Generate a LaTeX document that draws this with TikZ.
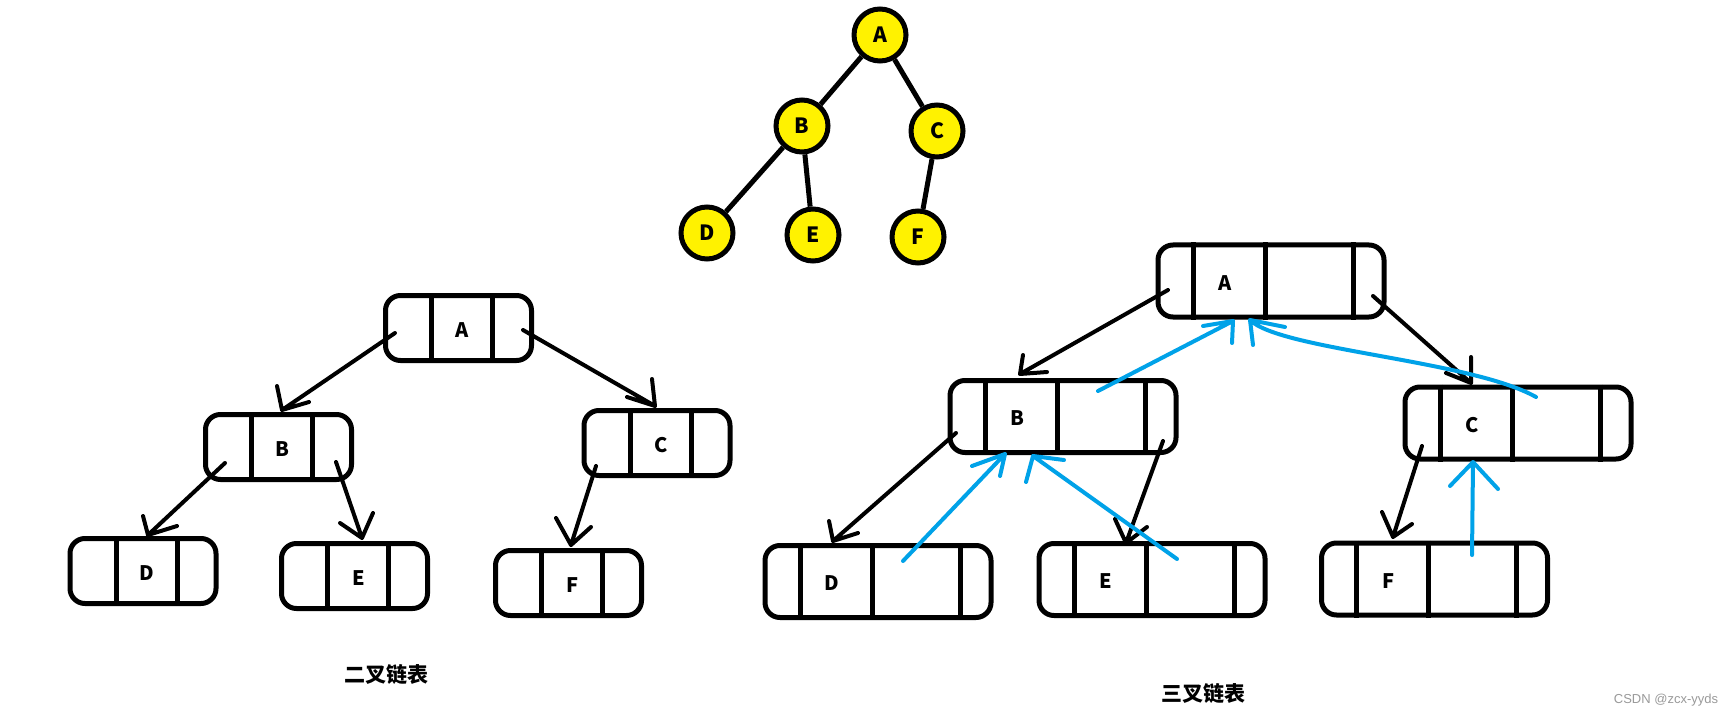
\documentclass[tikz,border=0pt]{standalone}
\usepackage{fontspec}
\setmainfont{Noto Sans CJK SC}
\newfontfamily\wmfont{Liberation Sans}
\definecolor{pyellow}{HTML}{FFF200}
\definecolor{pblue}{HTML}{00A2E8}
\definecolor{wmgray}{HTML}{9A9A9A}
\tikzset{
  circ/.style={circle, draw=black, line width=5pt, fill=pyellow, minimum size=52pt, inner sep=0pt, font=\fontsize{21}{24}\selectfont\bfseries},
  edge/.style={line width=5pt, draw=black},
  bin/.style={draw=black, line width=5pt, rounded corners=15pt, minimum width=146pt, minimum height=65pt, inner sep=0pt},
  tri/.style={draw=black, line width=5pt, rounded corners=15pt, minimum width=226pt, minimum height=72pt, inner sep=0pt},
  div/.style={line width=5pt, draw=black},
  lbl/.style={inner sep=0pt, font=\fontsize{20}{24}\selectfont\bfseries},
  blk/.style={line width=4pt, draw=black, line cap=round},
  blu/.style={line width=4pt, draw=pblue, line cap=round},
  captxt/.style={inner sep=0pt, font=\fontsize{21}{24}\selectfont\bfseries},
  wm/.style={inner sep=0pt, text=wmgray, font=\wmfont\fontsize{13}{15}\selectfont},
}
\newcommand\binbox[4]{%
  \node[bin] (#1) at (#2,#3) {};
  \draw[div] ([xshift=-27pt]#1.north) -- ([xshift=-27pt]#1.south);
  \draw[div] ([xshift=34pt]#1.north) -- ([xshift=34pt]#1.south);
  \node[lbl] (#1-t) at ([xshift=4pt,yshift=-2pt]#1.center) {#4};
}
\newcommand\tribox[4]{%
  \node[tri] (#1) at (#2,#3) {};
  \draw[div] ([xshift=-78pt]#1.north) -- ([xshift=-78pt]#1.south);
  \draw[div] ([xshift=-6pt]#1.north) -- ([xshift=-6pt]#1.south);
  \draw[div] ([xshift=82pt]#1.north) -- ([xshift=82pt]#1.south);
  \node[lbl] (#1-t) at ([xshift=-46pt,yshift=-2pt]#1.center) {#4};
}
\begin{document}
\begin{tikzpicture}[x=1pt,y=-1pt]
\useasboundingbox (0,0) rectangle (1728,719);
\fill[white] (0,0) rectangle (1728,719);

% ---------- tree ----------
\node[circ] (cA) at (880,35) {A};
\node[circ] (cB) at (802,126) {B};
\node[circ] (cC) at (937,131) {C};
\node[circ] (cD) at (707,233) {D};
\node[circ] (cE) at (813,235) {E};
\node[circ] (cF) at (918,237) {F};
\draw[edge] (cA) -- (cB);
\draw[edge] (cA) -- (cC);
\draw[edge] (cB) -- (cD);
\draw[edge] (cB) -- (cE);
\draw[edge] (cC) -- (cF);

% ---------- binary linked list ----------
\binbox{bA}{458.5}{328}{A}
\binbox{bB}{278.5}{447}{B}
\binbox{bC}{657}{443}{C}
\binbox{bD}{143}{571}{D}
\binbox{bE}{354.5}{576}{E}
\binbox{bF}{568.5}{583}{F}

\coordinate (s1) at (395,333); \coordinate (t1) at (282,410);
\draw[blk] (s1) -- (t1) (t1) -- ++(-5,-24) (t1) -- ++(27,-8);
\coordinate (s2) at (523,330); \coordinate (t2) at (655,406);
\draw[blk] (s2) -- (t2) (t2) -- ++(-3,-27) (t2) -- ++(-28,-9);
\coordinate (s3) at (225,463); \coordinate (t3) at (148,535);
\draw[blk] (s3) -- (t3) (t3) -- ++(-5,-19) (t3) -- ++(29,-9);
\coordinate (s4) at (336,462); \coordinate (t4) at (362,538);
\draw[blk] (s4) -- (t4) (t4) -- ++(-22,-15) (t4) -- ++(11,-25);
\coordinate (s5) at (596,466); \coordinate (t5) at (571,545);
\draw[blk] (s5) -- (t5) (t5) -- ++(-15,-27) (t5) -- ++(20,-18);

% ---------- trinary linked list ----------
\tribox{tA}{1271}{281}{A}
\tribox{tB}{1063}{416.5}{B}
\tribox{tC}{1518}{423}{C}
\tribox{tD}{878}{581.5}{D}
\tribox{tE}{1152}{579.5}{E}
\tribox{tF}{1434.5}{579}{F}

\coordinate (s6) at (1168,290); \coordinate (t6) at (1020,374);
\draw[blk] (s6) -- (t6) (t6) -- ++(3,-19) (t6) -- ++(27,-2);
\coordinate (s7) at (1373,296); \coordinate (t7) at (1471,383);
\draw[blk] (s7) -- (t7) (t7) -- ++(0,-26) (t7) -- ++(-25,-10);
\coordinate (s8) at (956,433); \coordinate (t8) at (833,541);
\draw[blk] (s8) -- (t8) (t8) -- ++(-4,-20) (t8) -- ++(25,-8);
\coordinate (s9) at (1163,441); \coordinate (t9) at (1126,543);
\draw[blk] (s9) -- (t9) (t9) -- ++(-11,-24) (t9) -- ++(21,-16);
\coordinate (s10) at (1422,446); \coordinate (t10) at (1393,537);
\draw[blk] (s10) -- (t10) (t10) -- ++(-11,-25) (t10) -- ++(19,-13);

% blue parent pointers
\coordinate (s11) at (1098,391); \coordinate (t11) at (1233,321);
\draw[blu] (s11) -- (t11) (t11) -- ++(-30,5) (t11) -- ++(-1,22);
\coordinate (s12) at (903,561); \coordinate (t12) at (1005,454);
\draw[blu] (s12) -- (t12) (t12) -- ++(-33,12) (t12) -- ++(-5,22);
\coordinate (s13) at (1177,559); \coordinate (t13) at (1033,456);
\draw[blu] (s13) -- (t13) (t13) -- ++(31,4) (t13) -- ++(-7,26);
\coordinate (s14) at (1536,397); \coordinate (t14) at (1250,320);
\draw[blu] (s14) .. controls (1470,360) and (1280,350) .. (t14) (t14) -- ++(35,7) (t14) -- ++(3,25);
\coordinate (s15) at (1472,555); \coordinate (t15) at (1473,462);
\draw[blu] (s15) -- (t15) (t15) -- ++(-23,24) (t15) -- ++(25,27);

% ---------- captions ----------
\node[captxt] (cap1) at (386,675) {二叉链表};
\node[captxt] (cap2) at (1203,694) {三叉链表};
\node[wm] (wmk) at (1666,700) {CSDN @zcx-yyds};
\end{tikzpicture}
\end{document}
